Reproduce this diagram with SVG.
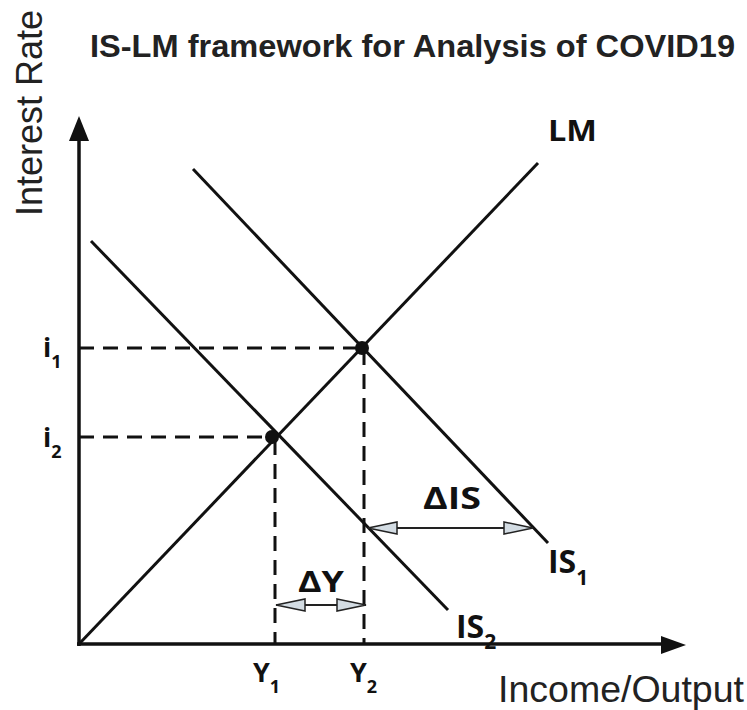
<svg xmlns="http://www.w3.org/2000/svg" width="747" height="710" viewBox="0 0 747 710">
<style>
.ax{stroke:#111;stroke-width:3.5;fill:none}
.cv{stroke:#111;stroke-width:3;fill:none}
.ds{stroke:#111;stroke-width:3;stroke-dasharray:15 9;fill:none}
.thin{stroke:#222;stroke-width:1.8;fill:none}
.lb{font-family:"Open Sans","Liberation Sans",sans-serif;font-weight:bold;fill:#111}
.tt{font-family:"Liberation Sans",Arial,sans-serif;fill:#222}
</style>
<defs>
<marker id="oa" markerWidth="32" markerHeight="16" refX="30" refY="8" orient="auto-start-reverse" markerUnits="userSpaceOnUse">
<path d="M1,2 L30,8 L1,14 Z" fill="#d3dce3" stroke="#222" stroke-width="1.5"/>
</marker>
</defs>
<g id="title"><text class="tt" x="90" y="57" font-size="32" font-weight="bold" textLength="645" lengthAdjust="spacingAndGlyphs">IS-LM framework for Analysis of COVID19</text></g>
<g id="axes">
<line class="ax" x1="79" y1="646" x2="79" y2="138"/>
<polygon points="79,116 69,141 89,141" fill="#111"/>
<line class="ax" x1="77" y1="644" x2="664" y2="644"/>
<polygon points="686,645 661,636 661,654" fill="#111"/>
<text class="tt" x="0" y="0" font-size="36" transform="translate(42,216) rotate(-90)" textLength="206" lengthAdjust="spacingAndGlyphs">Interest Rate</text>
<text class="tt" x="498" y="702" font-size="36" textLength="246" lengthAdjust="spacingAndGlyphs">Income/Output</text>
</g>
<g id="connectors">
<line class="ds" x1="79" y1="348" x2="362" y2="348"/>
<line class="ds" x1="79" y1="437" x2="273" y2="437"/>
<line class="ds" x1="364" y1="350" x2="364" y2="644"/>
<line class="ds" x1="275" y1="440" x2="275" y2="644"/>
</g>
<g id="LM">
<line class="cv" x1="80" y1="643" x2="538" y2="163"/>
<text class="lb" x="548" y="141" font-size="28" textLength="49" lengthAdjust="spacingAndGlyphs">LM</text>
</g>
<g id="IS1">
<line class="cv" x1="193" y1="169" x2="548" y2="543"/>
<text class="lb" x="548" y="573" font-size="32">IS<tspan font-size="21" dy="12">1</tspan></text>
</g>
<g id="IS2">
<line class="cv" x1="91" y1="241" x2="448" y2="610"/>
<text class="lb" x="456" y="638" font-size="32">IS<tspan font-size="21" dy="11">2</tspan></text>
</g>
<g id="points">
<circle cx="362" cy="348" r="7" fill="#111"/>
<circle cx="272" cy="437" r="7" fill="#111"/>
</g>
<g id="labels">
<text class="lb" x="43" y="357" font-size="27">i<tspan font-size="18" dy="11">1</tspan></text>
<text class="lb" x="43" y="447" font-size="27">i<tspan font-size="18" dy="11">2</tspan></text>
<text class="lb" x="253" y="682" font-size="27">Y<tspan font-size="18" dy="11">1</tspan></text>
<text class="lb" x="350" y="682" font-size="27">Y<tspan font-size="18" dy="11">2</tspan></text>
</g>
<g id="deltaIS">
<line class="thin" x1="368" y1="528" x2="533" y2="528" marker-start="url(#oa)" marker-end="url(#oa)"/>
<text class="lb" x="423" y="509" font-size="30" textLength="58" lengthAdjust="spacingAndGlyphs">ΔIS</text>
</g>
<g id="deltaY">
<line class="thin" x1="276" y1="605" x2="366" y2="605" marker-start="url(#oa)" marker-end="url(#oa)"/>
<text class="lb" x="298" y="592" font-size="28" textLength="46" lengthAdjust="spacingAndGlyphs">ΔY</text>
</g>
</svg>
